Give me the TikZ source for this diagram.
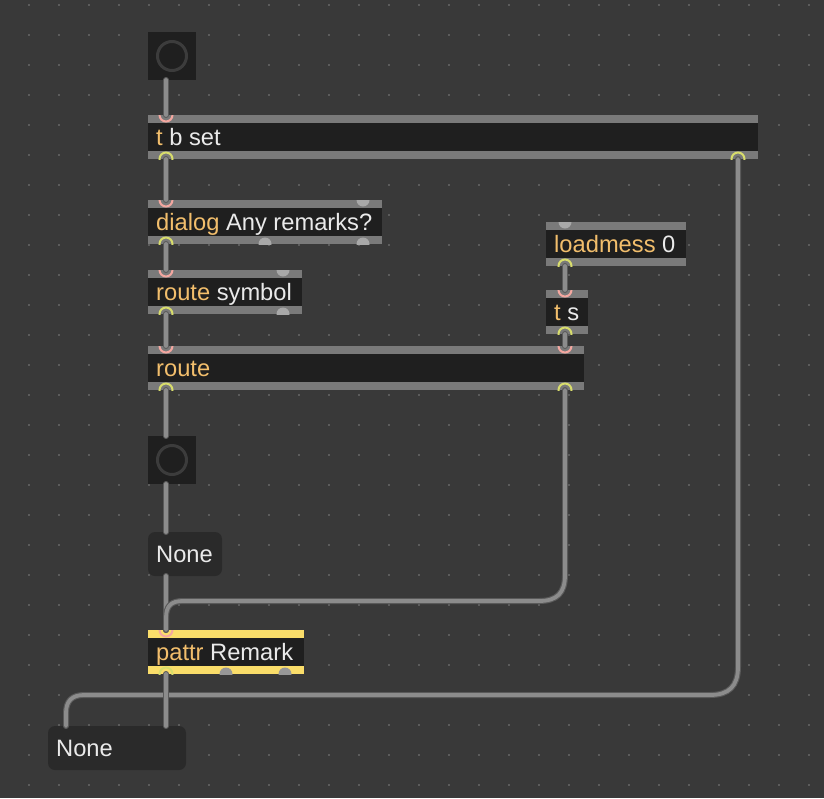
\documentclass[tikz,border=0pt]{standalone}
\usepackage{fontspec}
\setmainfont{Liberation Sans}
\definecolor{bg}{HTML}{393939}
\definecolor{dotc}{HTML}{5C5C5C}
\definecolor{barc}{HTML}{7A7A7A}
\definecolor{bodyc}{HTML}{1F1F1F}
\definecolor{orangec}{HTML}{F2BE6C}
\definecolor{whitec}{HTML}{EAEAEA}
\definecolor{pinkc}{HTML}{F4A7A0}
\definecolor{ylwc}{HTML}{D8DD6C}
\definecolor{portgray}{HTML}{A8A8A8}
\definecolor{msgc}{HTML}{2A2A2A}
\definecolor{pattrc}{HTML}{FADD6A}
\definecolor{cordout}{HTML}{5A5A5A}
\definecolor{cordin}{HTML}{8C8C8C}
\definecolor{ringc}{HTML}{3C3C3C}
\newcommand{\mxobj}[6]{%
  \node[mbox, fill=#5, minimum width=#4pt, anchor=north west] (#1) at (#2,#3) {};
  \fill[bodyc] ([yshift=-8pt]#1.north west) rectangle ([yshift=8pt]#1.south east);
  \node[mtext, anchor=base west] at ([xshift=8pt,yshift=14pt]#1.south west) {#6};
}
\newcommand{\mxport}[3]{% object, coordinate, style
  \begin{scope}
    \clip (#1.north west) rectangle (#1.south east);
    \path[#3] (#2) circle[radius=6.5pt];
  \end{scope}
}
\newcommand{\kw}[1]{\textcolor{orangec}{#1}}
\begin{document}
\begin{tikzpicture}[x=1pt,y=-1pt,
  mbox/.style={rectangle, inner sep=0pt, outer sep=0pt, minimum height=44pt},
  mtext/.style={inner sep=0pt, text=whitec, font=\fontsize{23.7}{26}\selectfont},
  msgbox/.style={rectangle, rounded corners=7pt, fill=msgc, inner sep=0pt, outer sep=0pt, minimum height=44pt, anchor=north west},
  btn/.style={rectangle, fill=bodyc, inner sep=0pt, outer sep=0pt, minimum size=48pt, anchor=north west},
  cord/.style={draw=cordout, line width=6pt, line cap=round,
    postaction={draw=cordin, line width=3.8pt, line cap=round}},
  inpink/.style={draw=pinkc, line width=2pt},
  outylw/.style={draw=ylwc, line width=2pt},
  pgray/.style={fill=portgray},
  pgray2/.style={fill=portgray!90!black}
]
\fill[bg] (0,0) rectangle (824,798);
\useasboundingbox (0,0) rectangle (824,798);
\foreach \i in {0,...,26} \foreach \j in {0,...,26}
  \fill[dotc] (28+30*\i,4+30*\j) rectangle ++(2,2);

% buttons
\node[btn] (b1) at (148,32) {};
\draw[ringc, line width=3pt] (b1.center) circle[radius=14.5pt];
\node[btn] (b2) at (148,436) {};
\draw[ringc, line width=3pt] (b2.center) circle[radius=14.5pt];

% objects
\mxobj{tbs}{148}{115}{610}{barc}{\kw{t} b set}
\mxobj{dlg}{148}{200}{234}{barc}{\kw{dialog} Any remarks?}
\mxobj{rs}{148}{270}{154}{barc}{\kw{route} symbol}
\mxobj{rt}{148}{346}{436}{barc}{\kw{route}}
\mxobj{lm}{546}{222}{140}{barc}{\kw{loadmess} 0}
\mxobj{ts}{546}{290}{42}{barc}{\kw{t} s}
\mxobj{pt}{148}{630}{156}{pattrc}{\kw{pattr} Remark}

% messages
\node[msgbox, minimum width=74pt] (n1) at (148,532) {};
\node[mtext, anchor=base west] at (156,562) {None};
\node[msgbox, minimum width=138pt] (n2) at (48,726) {};
\node[mtext, anchor=base west] at (56,756) {None};

% port coordinates
\coordinate (b1o) at (166,80);
\coordinate (b2i) at (166,436);
\coordinate (b2o) at (166,484);
\coordinate (tbsi1) at (166,115);
\coordinate (tbso1) at (166,159);
\coordinate (tbso2) at (738,159);
\coordinate (dlgi1) at (166,200);
\coordinate (dlgi2) at (363,200);
\coordinate (dlgo1) at (166,244);
\coordinate (dlgo2) at (265,244);
\coordinate (dlgo3) at (363,244);
\coordinate (rsi1) at (166,270);
\coordinate (rsi2) at (283,270);
\coordinate (rso1) at (166,314);
\coordinate (rso2) at (283,314);
\coordinate (rti1) at (166,346);
\coordinate (rti2) at (565,346);
\coordinate (rto1) at (166,390);
\coordinate (rto2) at (565,390);
\coordinate (lmi1) at (565,222);
\coordinate (lmo1) at (565,266);
\coordinate (tsi1) at (565,290);
\coordinate (tso1) at (565,334);
\coordinate (n1i) at (166,532);
\coordinate (n1o) at (166,576);
\coordinate (pti1) at (166,630);
\coordinate (pto1) at (166,674);
\coordinate (pto2) at (226,674);
\coordinate (pto3) at (285,674);
\coordinate (n2i1) at (66,726);
\coordinate (n2i2) at (166,726);
% cord waypoints
\coordinate (w1) at (565,575);
\coordinate (w2) at (539,601);
\coordinate (w3) at (183,601);
\coordinate (w4) at (166,618);
\coordinate (v1) at (738,667);
\coordinate (v2) at (710,695);
\coordinate (v3) at (84,695);
\coordinate (v4) at (66,713);

% cords
\path[cord] (b1o) -- (tbsi1);
\path[cord] (tbso1) -- (dlgi1);
\path[cord] (dlgo1) -- (rsi1);
\path[cord] (rso1) -- (rti1);
\path[cord] (rto1) -- (b2i);
\path[cord] (b2o) -- (n1i);
\path[cord] (n1o) -- (pti1);
\path[cord] (lmo1) -- (tsi1);
\path[cord] (tso1) -- (rti2);
\path[cord] (rto2) -- (w1) .. controls (565,593) and (557,601) .. (w2) -- (w3)
  .. controls (171,601) and (166,606) .. (w4) -- (pti1);
\path[cord] (tbso2) -- (v1) .. controls (738,686) and (729,695) .. (v2) -- (v3)
  .. controls (72,695) and (66,701) .. (v4) -- (n2i1);
\path[cord] (pto1) -- (n2i2);

% ports
\mxport{tbs}{tbsi1}{inpink}
\mxport{tbs}{tbso1}{outylw}
\mxport{tbs}{tbso2}{outylw}
\mxport{dlg}{dlgi1}{inpink}
\mxport{dlg}{dlgi2}{pgray}
\mxport{dlg}{dlgo1}{outylw}
\mxport{dlg}{dlgo2}{pgray}
\mxport{dlg}{dlgo3}{pgray}
\mxport{rs}{rsi1}{inpink}
\mxport{rs}{rsi2}{pgray}
\mxport{rs}{rso1}{outylw}
\mxport{rs}{rso2}{pgray}
\mxport{rt}{rti1}{inpink}
\mxport{rt}{rti2}{inpink}
\mxport{rt}{rto1}{outylw}
\mxport{rt}{rto2}{outylw}
\mxport{lm}{lmi1}{pgray}
\mxport{lm}{lmo1}{outylw}
\mxport{ts}{tsi1}{inpink}
\mxport{ts}{tso1}{outylw}
\mxport{pt}{pti1}{inpink}
\mxport{pt}{pto1}{outylw}
\mxport{pt}{pto2}{pgray2}
\mxport{pt}{pto3}{pgray2}
\end{tikzpicture}
\end{document}
